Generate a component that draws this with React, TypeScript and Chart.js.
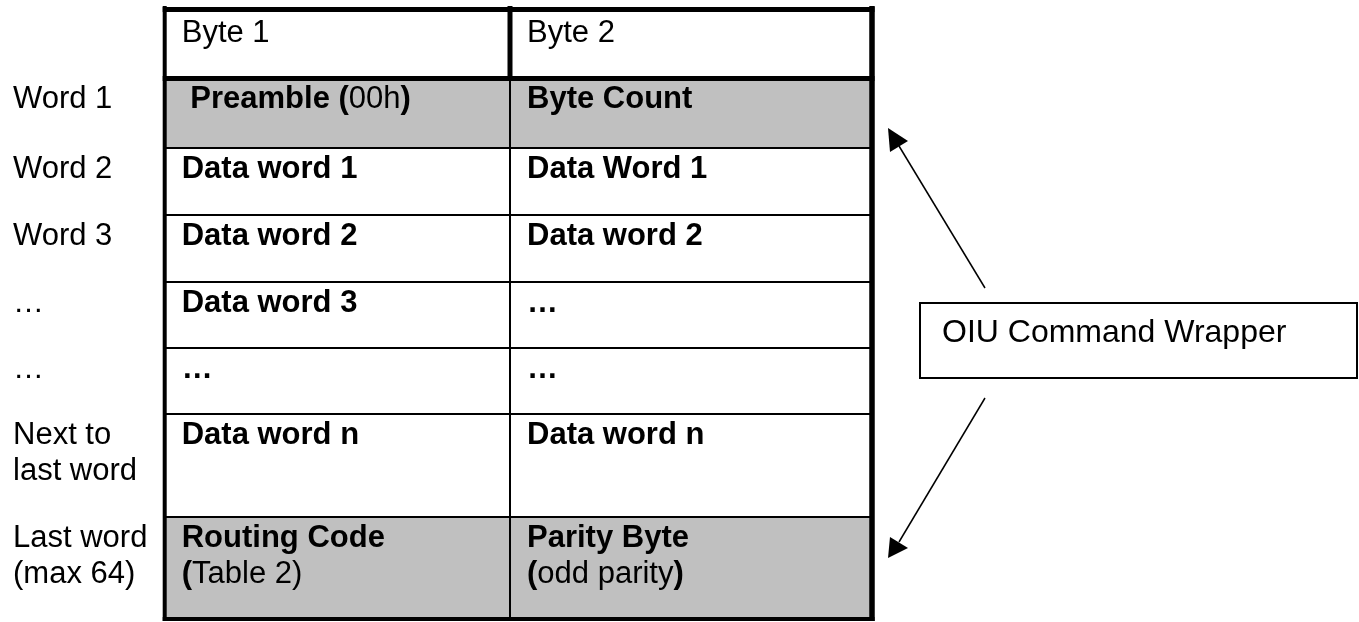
import React, { useEffect, useRef } from "react";
import { Chart, registerables } from "chart.js";

Chart.register(...registerables);

// ---------- content (data) ----------
type Run = [string, boolean]; // [text, bold]

const rowLabels: string[][] = [
  ["Word 1"],
  ["Word 2"],
  ["Word 3"],
  ["…"],
  ["…"],
  ["Next to", "last word"],
  ["Last word", "(max 64)"],
];

const headerLabels: string[] = ["Byte 1", "Byte 2"];

const byte1Cells: Run[][][] = [
  [[[" Preamble (", true], ["00h", false], [")", true]]],
  [[["Data word 1", true]]],
  [[["Data word 2", true]]],
  [[["Data word 3", true]]],
  [[["…", true]]],
  [[["Data word n", true]]],
  [[["Routing Code", true]], [["(", true], ["Table 2)", false]]],
];

const byte2Cells: Run[][][] = [
  [[["Byte Count", true]]],
  [[["Data Word 1", true]]],
  [[["Data word 2", true]]],
  [[["…", true]]],
  [[["…", true]]],
  [[["Data word n", true]]],
  [[["Parity Byte", true]], [["(", true], ["odd parity", false], [")", true]]],
];

const shadedRows: boolean[] = [true, false, false, false, false, false, true];

const wrapperLabel = "OIU Command Wrapper";

// ---------- layout (positions / sizes / styles) ----------
const W = 1359;
const H = 622;
const ROW_EDGES = [9.5, 78.5, 148, 215, 282, 348, 414, 517, 619];
const COL_EDGES = [164.7, 510, 872];
const LABEL_X = 13;
const CELL_PAD = 17;
const HEADER_BASE = 32;
const ROW_BASE = 29.5;
const LINE_GAP = 36;
const FONT_SIZE = 31;
const FONT_FAMILY = '"Liberation Sans", Arial, Helvetica, sans-serif';
const SHADE = "#c0c0c0";
const INK = "#000000";
const BOX = { x0: 920, x1: 1357, y0: 303, y1: 378, textX: 942, baseY: 342, size: 32 };
const ARROWS = [
  { from: [985, 288], to: [899, 146], tip: [888, 128], wings: [[890, 152], [908, 141]] },
  { from: [985, 398], to: [899, 542], tip: [888, 558], wings: [[890, 537], [908, 548]] },
];

function font(bold: boolean, size = FONT_SIZE) {
  return `${bold ? "bold " : ""}${size}px ${FONT_FAMILY}`;
}

const tablePlugin = {
  id: "wordTable",
  beforeDatasetsDraw(chart: any) {
    const ctx: CanvasRenderingContext2D = chart.ctx;
    const xs = chart.scales.x;
    const ys = chart.scales.y;
    const px = (v: number) => xs.getPixelForValue(v);
    const py = (v: number) => ys.getPixelForValue(v);

    const hLine = (x0: number, x1: number, y: number, w: number) => {
      ctx.fillRect(px(x0), py(y) - w / 2, px(x1) - px(x0), w);
    };
    const vLine = (x: number, y0: number, y1: number, w: number) => {
      ctx.fillRect(px(x) - w / 2, py(y0), w, py(y1) - py(y0));
    };

    ctx.save();
    const left = COL_EDGES[0];
    const mid = COL_EDGES[1];
    const right = COL_EDGES[2];
    const top = ROW_EDGES[0];
    const bottom = ROW_EDGES[ROW_EDGES.length - 1];

    // shaded rows
    shadedRows.forEach((s, i) => {
      if (!s) return;
      const y0 = ROW_EDGES[i + 1];
      const y1 = ROW_EDGES[i + 2];
      ctx.fillStyle = SHADE;
      ctx.fillRect(px(left), py(y0), px(right) - px(left), py(y1) - py(y0));
    });

    ctx.fillStyle = INK;
    // thin row lines
    for (let i = 2; i < ROW_EDGES.length - 1; i++) {
      hLine(left, right, ROW_EDGES[i], 2);
    }
    // thin column divider below header
    vLine(mid, ROW_EDGES[1], bottom, 2);
    // thick header divider
    vLine(mid, top - 3.5, ROW_EDGES[1], 5);
    // header bottom
    hLine(left - 2, right + 2.5, ROW_EDGES[1], 5);
    // outer borders
    hLine(left - 2, right + 2.5, top, 5);
    hLine(left - 2, right + 2.5, bottom, 4);
    vLine(left, top - 3.5, bottom + 2, 4);
    vLine(right, top - 3.5, bottom + 2, 5.5);

    // text
    ctx.textBaseline = "alphabetic";
    ctx.textAlign = "left";
    const drawRuns = (runs: Run[], x: number, y: number) => {
      let cx = px(x);
      runs.forEach(([t, b]) => {
        ctx.font = font(b);
        ctx.fillText(t, cx, py(y));
        cx += ctx.measureText(t).width;
      });
    };

    // header
    headerLabels.forEach((h, c) => {
      drawRuns([[h, false]], COL_EDGES[c] + CELL_PAD, top + HEADER_BASE);
    });

    rowLabels.forEach((lines, r) => {
      const rt = ROW_EDGES[r + 1];
      lines.forEach((l, k) => {
        drawRuns([[l, false]], LABEL_X, rt + ROW_BASE + k * LINE_GAP);
      });
      byte1Cells[r].forEach((runs, k) => {
        drawRuns(runs, COL_EDGES[0] + CELL_PAD, rt + ROW_BASE + k * LINE_GAP);
      });
      byte2Cells[r].forEach((runs, k) => {
        drawRuns(runs, COL_EDGES[1] + CELL_PAD, rt + ROW_BASE + k * LINE_GAP);
      });
    });

    // wrapper box
    ctx.fillStyle = "#ffffff";
    ctx.fillRect(px(BOX.x0), py(BOX.y0), px(BOX.x1) - px(BOX.x0), py(BOX.y1) - py(BOX.y0));
    ctx.strokeStyle = INK;
    ctx.lineWidth = 2;
    ctx.strokeRect(px(BOX.x0), py(BOX.y0), px(BOX.x1) - px(BOX.x0), py(BOX.y1) - py(BOX.y0));
    ctx.fillStyle = INK;
    ctx.font = font(false, BOX.size);
    ctx.fillText(wrapperLabel, px(BOX.textX), py(BOX.baseY));
    ctx.restore();
  },
  afterDatasetsDraw(chart: any) {
    const ctx: CanvasRenderingContext2D = chart.ctx;
    const xs = chart.scales.x;
    const ys = chart.scales.y;
    ctx.save();
    ctx.fillStyle = INK;
    ARROWS.forEach((a) => {
      ctx.beginPath();
      ctx.moveTo(xs.getPixelForValue(a.tip[0]), ys.getPixelForValue(a.tip[1]));
      a.wings.forEach((w) => ctx.lineTo(xs.getPixelForValue(w[0]), ys.getPixelForValue(w[1])));
      ctx.closePath();
      ctx.fill();
    });
    ctx.restore();
  },
};

export default function App() {
  const ref = useRef<HTMLCanvasElement | null>(null);
  useEffect(() => {
    if (!ref.current) return;
    const chart = new Chart(ref.current, {
      type: "scatter",
      data: {
        datasets: ARROWS.map((a, i) => ({
          label: `arrow ${i + 1}`,
          data: [
            { x: a.from[0], y: a.from[1] },
            { x: a.to[0], y: a.to[1] },
          ],
          showLine: true,
          borderColor: INK,
          borderWidth: 1.5,
          pointRadius: 0,
          fill: false,
        })),
      },
      options: {
        animation: false,
        responsive: true,
        maintainAspectRatio: false,
        layout: { padding: 0 },
        plugins: { legend: { display: false }, tooltip: { enabled: false } },
        events: [],
        scales: {
          x: { type: "linear", min: 0, max: W, display: false },
          y: { type: "linear", min: 0, max: H, reverse: true, display: false },
        },
      },
      plugins: [tablePlugin],
    });
    return () => chart.destroy();
  }, []);
  return (
    <div style={{ position: "absolute", left: 0, top: 0, width: W, height: H, background: "#fff" }}>
      <canvas ref={ref} style={{ display: "block" }} />
    </div>
  );
}
